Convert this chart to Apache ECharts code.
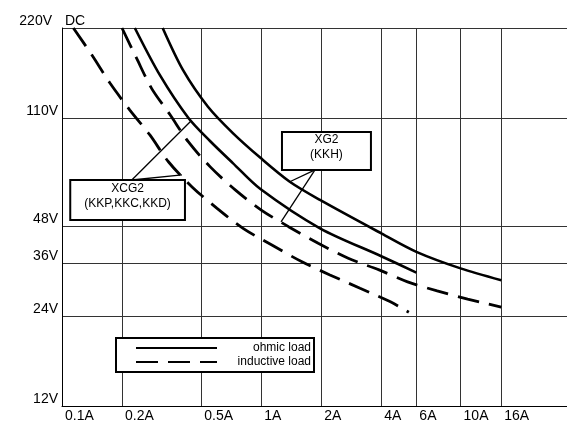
<!DOCTYPE html>
<html><head><meta charset="utf-8">
<script src="https://cdn.jsdelivr.net/npm/echarts@6/dist/echarts.min.js"></script>
<style>html,body{margin:0;padding:0;background:#fff}#c{width:567px;height:426px}</style>
</head><body><div id="c"></div>
<script>
// ---- data ----
const xTicks = [0.1, 0.2, 0.5, 1, 2, 4, 6, 10, 16];
const xTickLabels = ['0.1A', '0.2A', '0.5A', '1A', '2A', '4A', '6A', '10A', '16A'];
const yTicks = [12, 24, 36, 48, 110, 220];
const yTickLabels = ['12V', '24V', '36V', '48V', '110V', '220V'];
const yUnitLabel = 'DC';

// XG2 (KKH)
const xg2Ohmic = [[0.32,220],[0.405,159],[0.54,120],[0.72,98],[0.99,81],[1.39,67.4],[1.97,58.6],[4,45.3],[6,39.3],[10,34.6],[16,31.6]];
const xg2Inductive = [[0.2,220],[0.237,174],[0.282,138],[0.348,113],[0.43,91.7],[0.553,75.7],[0.74,63.3],[1.0,54.2],[1.37,47.7],[1.93,42],[2.73,37.4],[3.9,34.2],[5.42,31.2],[7.63,29.1],[10.85,27.3],[16,25.7]];
// XCG2 (KKP,KKC,KKD)
const xcg2Ohmic = [[0.232,220],[0.31,153],[0.43,110.3],[0.553,92.2],[0.72,77.8],[0.99,63.7],[1.97,47.1],[4,38],[6,33.5]];
const xcg2Inductive = [[0.114,220],[0.141,179],[0.174,144],[0.219,117],[0.276,96.6],[0.342,78.6],[0.448,64.9],[0.6,54.9],[0.81,47.1],[1.13,41.4],[1.6,36.4],[2.21,32.9],[3.13,29.7],[4.42,26.8],[5.5,24.7]];

const legendNames = ['ohmic load', 'inductive load'];

// callouts (data coordinates)
const xcg2Text = 'XCG2\n(KKP,KKC,KKD)';
const xcg2Box = [[0.11, 68.3], [0.414, 50.2]];
const xcg2Leaders = [[[0.224, 68.3], [0.44, 107]], [[0.224, 68.3], [0.40, 71]]];
const xg2Text = 'XG2\n(KKH)';
const xg2Box = [[1.27, 98.8], [3.55, 73.8]];
const xg2Leaders = [[[1.86, 73.8], [1.39, 67.4]], [[1.86, 73.8], [1.256, 49.5]]];

// ---- chart ----
const FONT = 'Liberation Sans, Arial, sans-serif';
function pick(ticks, labels, v) {
  let best = 0, bd = Infinity;
  for (let i = 0; i < ticks.length; i++) {
    const d = Math.abs(Math.log(ticks[i]) - Math.log(v));
    if (d < bd) { bd = d; best = i; }
  }
  return labels[best];
}
const chart = echarts.init(document.getElementById('c'), null, {renderer: 'canvas'});
const solid = {color: '#000', width: 2.6, type: 'solid'};
const dashed = {color: '#000', width: 2.8, type: [22, 10]};
function curve(name, data, ls, extra) {
  return Object.assign({
    name: name, type: 'line', data: data, smooth: 0.3, symbol: 'none', showSymbol: false,
    lineStyle: ls, itemStyle: {color: '#000'}, silent: true, z: 3
  }, extra || {});
}
chart.setOption({
  animation: false,
  backgroundColor: '#fff',
  grid: {left: 62, right: 0, top: 28, bottom: 20},
  legend: {
    data: legendNames, orient: 'vertical', left: 116, top: 338,
    itemWidth: 81, itemHeight: 14, itemGap: 2, padding: [4, 3, 4, 19],
    backgroundColor: '#fff', borderColor: '#000', borderWidth: 2, borderRadius: 0,
    selectedMode: false,
    itemStyle: {opacity: 0, color: 'rgba(0,0,0,0)', borderWidth: 0},
    lineStyle: {color: '#000'},
    formatter: n => '{r|' + n + '}',
    textStyle: {fontSize: 12, color: '#000', fontFamily: FONT,
      rich: {r: {width: 89, align: 'right', fontSize: 12, color: '#000', fontFamily: FONT}}}
  },
  xAxis: {
    type: 'log', logBase: 10, min: 0.1, max: 34.2,
    axisLine: {show: true, lineStyle: {color: '#000', width: 1}},
    axisTick: {show: false, customValues: xTicks},
    splitLine: {show: true, lineStyle: {color: '#333', width: 1}},
    axisLabel: {customValues: xTicks, formatter: v => pick(xTicks, xTickLabels, v),
      align: 'left', padding: [0, 0, 0, 3], margin: 3, fontSize: 14, color: '#000', fontFamily: FONT}
  },
  yAxis: {
    type: 'log', logBase: 10, min: 12, max: 220,
    name: yUnitLabel, nameLocation: 'end', nameGap: 0,
    nameTextStyle: {align: 'left', verticalAlign: 'bottom', padding: [0, 0, 0, 3], fontSize: 14, color: '#000', fontFamily: FONT},
    axisLine: {show: true, lineStyle: {color: '#000', width: 1}},
    axisTick: {show: false, customValues: yTicks},
    splitLine: {show: true, lineStyle: {color: '#333', width: 1}},
    axisLabel: {customValues: yTicks,
      formatter: v => { const t = pick(yTicks, yTickLabels, v); return v > 200 ? '{w|' + t + '}' : t; },
      rich: {w: {padding: [0, 6, 0, 0], fontSize: 14, color: '#000', fontFamily: FONT}},
      verticalAlign: 'bottom', margin: 4, fontSize: 14, color: '#000', fontFamily: FONT}
  },
  series: [
    curve(legendNames[0], xg2Ohmic, solid, {
      markArea: {
        silent: true,
        itemStyle: {color: '#fff', borderColor: '#000', borderWidth: 2},
        label: {show: true, position: 'inside', offset: [0, -4], color: '#000', fontSize: 12, lineHeight: 15, fontFamily: FONT},
        data: [
          [{coord: xcg2Box[0], name: xcg2Text}, {coord: xcg2Box[1]}],
          [{coord: xg2Box[0], name: xg2Text}, {coord: xg2Box[1]}]
        ]
      },
      markLine: {
        silent: true, symbol: 'none', label: {show: false},
        lineStyle: {color: '#000', width: 1.3, type: 'solid'},
        emphasis: {disabled: true},
        data: xcg2Leaders.concat(xg2Leaders).map(l => [{coord: l[0]}, {coord: l[1]}])
      }
    }),
    curve(legendNames[1], xg2Inductive, dashed),
    curve(legendNames[0], xcg2Ohmic, solid),
    curve(legendNames[1], xcg2Inductive, dashed)
  ]
});
</script>
</body></html>
